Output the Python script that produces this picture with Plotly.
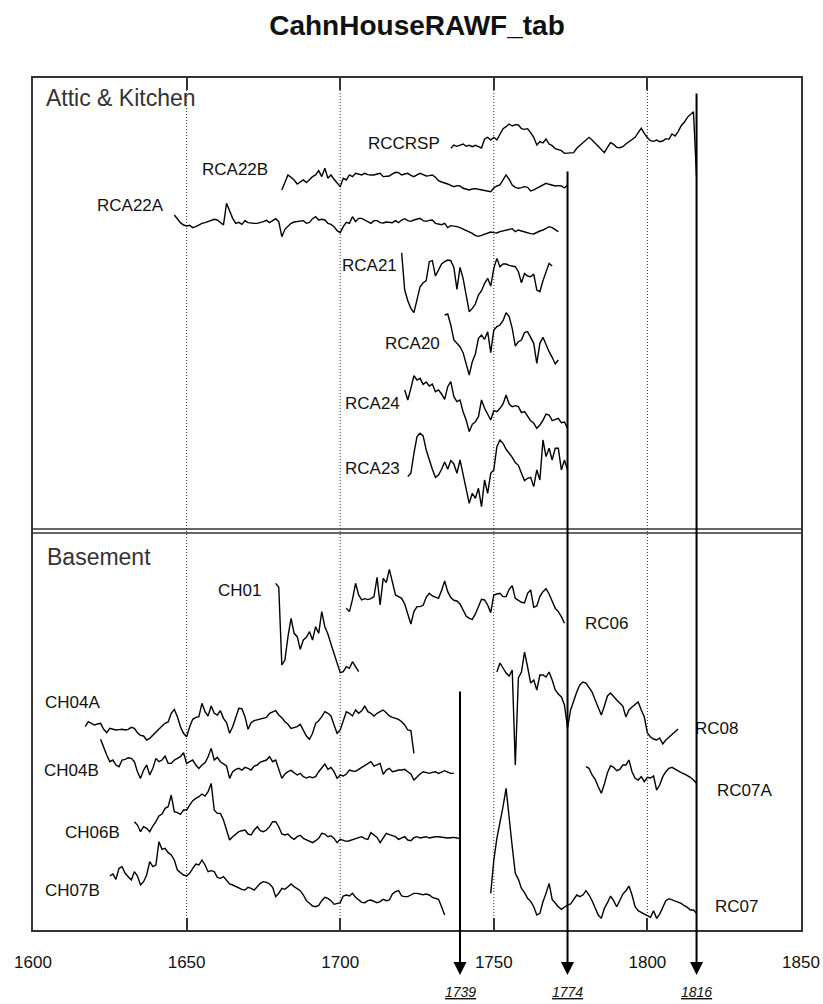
import plotly.graph_objects as go

TITLE = "CahnHouseRAWF_tab"
X_TICKS = [1600, 1650, 1700, 1750, 1800, 1850]
GRID_YEARS = [1650, 1700, 1750, 1800]
MARK_YEARS = [1739, 1774, 1816]
MARK_LABELS = ["1739", "1774", "1816"]
SECTIONS = ["Attic & Kitchen", "Basement"]

# ---- series: first year + yearly index values ----
RCCRSP_START = 1736
RCCRSP = [95, 105, 101, 105, 108, 101, 104, 100, 104, 100, 96, 123, 128, 120, 128, 120, 135, 154, 160, 168,
          162, 166, 165, 154, 152, 154, 142, 128, 105, 115, 111, 123, 108, 103, 94, 92, 88, 80, 80, 80,
          82, 95, 104, 113, 122, 128, 120, 110, 100, 90, 82, 98, 112, 107, 98, 97, 100, 108, 115, 120,
          128, 142, 155, 140, 127, 118, 116, 120, 115, 117, 124, 122, 138, 132, 145, 163, 173, 188, 198, 205, 10]

RCA22B_START = 1681
RCA22B = [10, 32, 55, 48, 40, 28, 35, 40, 32, 40, 50, 55, 68, 50, 75, 45, 55, 42, 32, 20,
          45, 40, 55, 50, 60, 57, 55, 60, 56, 55, 55, 58, 60, 50, 52, 52, 58, 63, 62,
          55, 58, 60, 54, 50, 55, 60, 56, 52, 53, 55, 48, 38, 34, 32, 28, 24, 20, 23, 22,
          15, 12, 10, 13, 14, 12, 10, 9, 7, 5, 16, 22, 25, 40, 55, 42, 25, 18, 15, 17,
          20, 18, 7, 10, 15, 22, 26, 30, 27, 25, 22, 23, 22, 16, 25]

RCA22A_START = 1646
RCA22A = [75, 62, 52, 45, 42, 44, 37, 40, 45, 50, 52, 56, 59, 62, 60, 53, 45, 110, 85, 65,
          50, 53, 47, 58, 52, 50, 50, 50, 52, 55, 59, 52, 58, 64, 55, 10, 32, 40, 50, 54,
          55, 57, 58, 50, 53, 64, 70, 60, 62, 60, 50, 47, 40, 28, 22, 40, 53, 50, 70, 55,
          65, 65, 60, 55, 50, 58, 58, 52, 51, 54, 54, 52, 58, 52,
          60, 64, 58, 56, 60, 62, 65, 58, 56, 59, 60, 50, 47, 46, 50, 37, 43, 42, 40, 37,
          33, 27, 23, 20, 13, 11, 14, 17, 21, 24, 22, 21, 25, 27, 30, 33, 34, 25, 30, 27,
          24, 21, 19, 18, 23, 27, 30, 35, 40, 37, 30, 25]

RCA21_START = 1720
RCA21 = [192, 80, 48, 25, 12, 55, 90, 102, 108, 165, 168, 122, 140, 158, 165, 170, 168, 148, 82, 148,
         115, 70, 15, 25, 38, 65, 78, 100, 115, 92, 145, 175, 150, 158, 158, 154, 152, 150, 135, 102,
         130, 122, 120, 128, 80, 75, 108, 135, 160, 152]

RCA20_START = 1734
RCA20 = [195, 198, 165, 120, 110, 100, 82, 45, 15, 55, 78, 125, 135, 122, 145, 82, 150, 160, 165, 178,
         202, 190, 155, 102, 115, 120, 142, 145, 128, 110, 50, 110, 128, 105, 85, 68, 48, 60]

RCA24_START = 1721
RCA24 = [150, 120, 155, 193, 180, 185, 167, 174, 162, 168, 145, 150, 138, 122, 160, 175, 130, 115, 120, 85,
         60, 25, 47, 55, 70, 120, 95, 76, 60, 88, 85, 95, 108, 135, 108, 100, 103, 100, 82, 85,
         70, 58, 50, 35, 45, 59, 78, 75, 58, 62, 65, 52, 54, 35]

RCA23_START = 1722
RCA23 = [110, 120, 180, 230, 240, 232, 190, 158, 132, 108, 115, 132, 154, 132, 158, 148, 120, 160, 120, 80,
         30, 60, 45, 75, 20, 100, 60, 120, 130, 200, 220, 210, 192, 180, 168, 152, 144, 120, 98, 105,
         108, 80, 130, 100, 220, 170, 195, 160, 195, 195, 130, 160, 130]

CH01_START = 1679
CH01 = [290, 278, 45, 60, 130, 185, 140, 130, 92, 120, 128, 145, 120, 160, 140, 205, 160, 138, 108, 78,
        50, 22, 25, 40, 35, 55, 40, 25]

RC06_START = 1702
RC06 = [75, 65, 102, 150, 115, 100, 104, 101, 104, 110, 168, 85, 165, 152, 192, 155, 115, 110,
        105, 88, 55, 28, 65, 80, 80, 84, 108, 120, 112, 108, 105, 128, 157, 125, 107, 99, 97, 88,
        72, 52, 45, 42, 58, 82, 102, 100, 85, 62, 115, 118, 120, 110, 110, 132, 143, 105, 100, 93,
        91, 120, 130, 78, 82, 110, 125, 134, 118, 95, 75, 65, 50, 30]

RC08_START = 1751
RC08 = [324, 351, 336, 321, 312, 330, 45, 306, 324, 384, 339, 291, 300, 270, 315, 315, 309, 324, 300, 270,
        258, 249, 225, 156, 210, 240, 264, 285, 294, 291, 279, 264, 240, 216, 195, 222, 252, 261, 249, 240,
        231, 222, 189, 210, 219, 228, 234, 210, 189, 141, 129, 123, 120, 126, 108, 120, 129, 138, 144, 153]

RC07A_START = 1780
RC07A = [100, 95, 75, 62, 40, 20, 48, 82, 103, 98, 88, 92, 105, 105, 120, 85, 65, 60, 70, 55,
         68, 66, 72, 30, 45, 70, 85, 95, 98, 92, 88, 82, 78, 74, 68, 60, 50]

RC07_START = 1749
RC07 = [100, 200, 265, 310, 360, 415, 320, 240, 160, 142, 115, 102, 85, 76, 60, 35, 40, 75, 100, 130,
        82, 70, 60, 52, 58, 65, 68, 80, 95, 90, 95, 108, 95, 78, 58, 35, 25, 55, 72, 92,
        78, 60, 78, 98, 108, 122, 95, 60, 48, 42, 38, 33, 28, 48, 25, 38, 60, 78, 84, 81,
        77, 75, 70, 63, 58, 50, 50, 40]

CH04A_START = 1617
CH04A = [100, 115, 110, 105, 108, 110, 92, 82, 95, 92, 90, 91, 92, 90, 92, 98, 95, 82, 74, 72,
         60, 65, 75, 82, 92, 102, 110, 114, 140, 152, 130, 100, 80, 70, 100, 122, 128, 130, 170, 145,
         132, 162, 140, 135, 148, 125, 112, 80, 100, 130, 155, 154, 130, 92, 112, 118, 120, 122, 124, 128,
         140, 144, 148, 135, 127, 115, 107, 95, 98, 100, 107, 90, 72, 62, 80, 110, 118, 130, 145, 140,
         132, 105, 80, 90, 118, 145, 140, 132, 150, 140, 148, 162, 145, 140, 132, 140, 145, 150, 142, 132,
         128, 125, 122, 115, 105, 90, 88, 20]

CH04B_START = 1622
CH04B = [142, 115, 95, 75, 80, 65, 60, 80, 82, 87, 85, 75, 45, 25, 50, 65, 35, 55, 85, 75,
         80, 92, 70, 70, 80, 85, 90, 102, 70, 75, 80, 65, 55, 65, 72, 90, 115, 80, 88, 75,
         68, 62, 25, 45, 52, 55, 50, 58, 55, 50, 62, 65, 74, 76, 80, 90, 75, 80, 55, 25,
         38, 45, 49, 42, 35, 40, 30, 26, 30, 27, 30, 45, 58, 68, 52, 58, 45, 25, 35, 32,
         38, 50, 47, 46, 52, 58, 65, 70, 75, 62, 65, 70, 37, 50, 55, 45, 47, 50, 50, 52,
         45, 38, 20, 30, 38, 45, 43, 40, 43, 45, 40, 43, 48, 44, 40, 40]

CH06B_START = 1633
CH06B = [75, 65, 45, 60, 55, 45, 62, 75, 92, 98, 115, 120, 155, 105, 102, 97, 110, 110, 125, 138,
         145, 150, 158, 152, 165, 190, 110, 100, 100, 80, 50, 20, 30, 38, 45, 48, 50, 38, 35, 50,
         60, 48, 45, 50, 60, 75, 75, 60, 38, 35, 38, 28, 22, 30, 34, 25, 20, 15, 12, 18,
         25, 40, 38, 30, 33, 25, 12, 22, 20, 16, 18, 20, 24, 27, 30, 24, 22, 42, 35, 28,
         12, 25, 40, 36, 33, 30, 22, 25, 30, 20, 18, 27, 30, 26, 28, 30, 26, 29, 30, 30,
         28, 26, 26, 27, 28, 26, 25]

CH07B_START = 1625
CH07B = [132, 138, 122, 155, 160, 140, 130, 120, 145, 132, 105, 115, 135, 175, 160, 165, 235, 212, 215, 202,
         195, 180, 150, 142, 135, 132, 140, 155, 168, 165, 180, 165, 145, 148, 145, 128, 125, 130, 120, 108,
         105, 100, 96, 92, 90, 98, 95, 90, 100, 110, 115, 113, 108, 98, 70, 80, 95, 92, 100, 108,
         100, 95, 88, 75, 58, 50, 42, 40, 44, 58, 68, 65, 58, 47, 50, 52, 72, 75, 72, 80,
         68, 60, 53, 52, 58, 60, 56, 52, 55, 62, 58, 60, 78, 85, 88, 72, 70, 70, 75, 80,
         80, 77, 76, 78, 75, 68, 65, 62, 40, 15]

SERIES = [
    ("RCCRSP", RCCRSP_START, RCCRSP), ("RCA22B", RCA22B_START, RCA22B), ("RCA22A", RCA22A_START, RCA22A),
    ("RCA21", RCA21_START, RCA21), ("RCA20", RCA20_START, RCA20), ("RCA24", RCA24_START, RCA24),
    ("RCA23", RCA23_START, RCA23), ("CH01", CH01_START, CH01), ("RC06", RC06_START, RC06),
    ("RC08", RC08_START, RC08), ("RC07A", RC07A_START, RC07A), ("RC07", RC07_START, RC07),
    ("CH04A", CH04A_START, CH04A), ("CH04B", CH04B_START, CH04B), ("CH06B", CH06B_START, CH06B),
    ("CH07B", CH07B_START, CH07B),
]

# ---- layout of the stacked plot (vertical rows on a reversed axis) ----
ROW_TOP, ROW_BOTTOM = 78, 930
UNIT = 1 / 3.0  # rows per index unit
PLACE = {  # name: (baseline row, label year, label row)
    "RCCRSP": (180.0, 1708.4, 143), "RCA22B": (193.3, 1654.4, 169), "RCA22A": (240.0, 1620.2, 205.5),
    "RCA21": (316.7, 1699.9, 265), "RCA20": (380.0, 1713.9, 343), "RCA24": (440.0, 1700.9, 403),
    "RCA23": (513.3, 1700.9, 468), "CH01": (680.0, 1659.6, 590), "RC06": (633.3, 1779.0, 623),
    "RC08": (780.0, 1814.8, 728), "RC07A": (800.0, 1822.0, 790), "RC07": (926.7, 1821.4, 906),
    "CH04A": (760.0, 1603.3, 702), "CH04B": (786.7, 1602.9, 770), "CH06B": (846.7, 1609.8, 832),
    "CH07B": (920.0, 1603.3, 890),
}
SECTION_POS = [(1603.6, 98), (1603.9, 557)]
DIVIDER_ROWS = [529, 533]
MARK_TAIL_ROWS = [690, 170, 92]
MARK_TIP_ROW = 975
MARK_LABEL_ROW = 992

FONT = "Arial, Liberation Sans, sans-serif"

fig = go.Figure()
for name, start, vals in SERIES:
    base = PLACE[name][0]
    fig.add_trace(go.Scatter(
        x=[start + i for i in range(len(vals))],
        y=[base - v * UNIT for v in vals],
        mode="lines", line=dict(color="black", width=1.4),
        showlegend=False, hoverinfo="skip"))

shapes = []
for yr in GRID_YEARS:
    shapes.append(dict(type="line", xref="x", yref="y", x0=yr, x1=yr, y0=ROW_TOP, y1=ROW_BOTTOM,
                       line=dict(color="#333", width=1, dash="1px,2px"), layer="below"))
for r in DIVIDER_ROWS:
    shapes.append(dict(type="line", xref="paper", yref="y", x0=0, x1=1, y0=r, y1=r,
                       line=dict(color="#333", width=1.6)))

ann = []
for (name, _, _) in SERIES:
    _, lx, ly = PLACE[name]
    ann.append(dict(x=lx, y=ly, xref="x", yref="y", text=name, showarrow=False,
                    xanchor="left", yanchor="middle", font=dict(family=FONT, size=17, color="#111")))
for txt, (sx, sy) in zip(SECTIONS, SECTION_POS):
    ann.append(dict(x=sx, y=sy, xref="x", yref="y", text=txt, showarrow=False,
                    xanchor="left", yanchor="middle", font=dict(family=FONT, size=23, color="#333")))
paper_lab = (ROW_BOTTOM - MARK_LABEL_ROW) / (ROW_BOTTOM - ROW_TOP)
for yr, lab, tail in zip(MARK_YEARS, MARK_LABELS, MARK_TAIL_ROWS):
    ann.append(dict(x=yr, y=MARK_TIP_ROW, xref="x", yref="y", ax=yr, ay=tail, axref="x", ayref="y",
                    text="", showarrow=True, arrowhead=2, arrowsize=1.3, arrowwidth=2,
                    arrowcolor="black", standoff=0, startstandoff=0))
    ann.append(dict(x=yr, y=paper_lab, xref="x", yref="paper", text="<i><u>%s</u></i>" % lab,
                    showarrow=False, xanchor="center", yanchor="middle",
                    font=dict(family=FONT, size=14, color="#111")))

fig.update_layout(
    width=823, height=1004,
    margin=dict(l=33, r=22, t=78, b=74, autoexpand=False),
    paper_bgcolor="white", plot_bgcolor="white",
    title=dict(text="<b>%s</b>" % TITLE, x=0.5, xref="paper", y=1 - 25 / 1004, yref="container",
               xanchor="center", yanchor="middle", font=dict(family=FONT, size=28, color="#111")),
    xaxis=dict(range=[X_TICKS[0], X_TICKS[-1]], tickvals=X_TICKS, ticktext=[str(t) for t in X_TICKS],
               showgrid=False, zeroline=False, showline=True, mirror="allticks", linecolor="#333",
               linewidth=2, ticks="inside", ticklen=12, tickwidth=1.5, tickcolor="#333",
               automargin=False,
               ticklabelstandoff=16, tickfont=dict(family=FONT, size=17, color="#111")),
    yaxis=dict(range=[ROW_BOTTOM, ROW_TOP], showgrid=False, zeroline=False, showline=True, mirror=True,
               linecolor="#333", linewidth=2, showticklabels=False, ticks="", automargin=False),
    shapes=shapes, annotations=ann,
)

fig.write_html("out.html", config={"displayModeBar": False},
               post_script="document.body.style.margin='0px';document.body.style.overflow='hidden';")
